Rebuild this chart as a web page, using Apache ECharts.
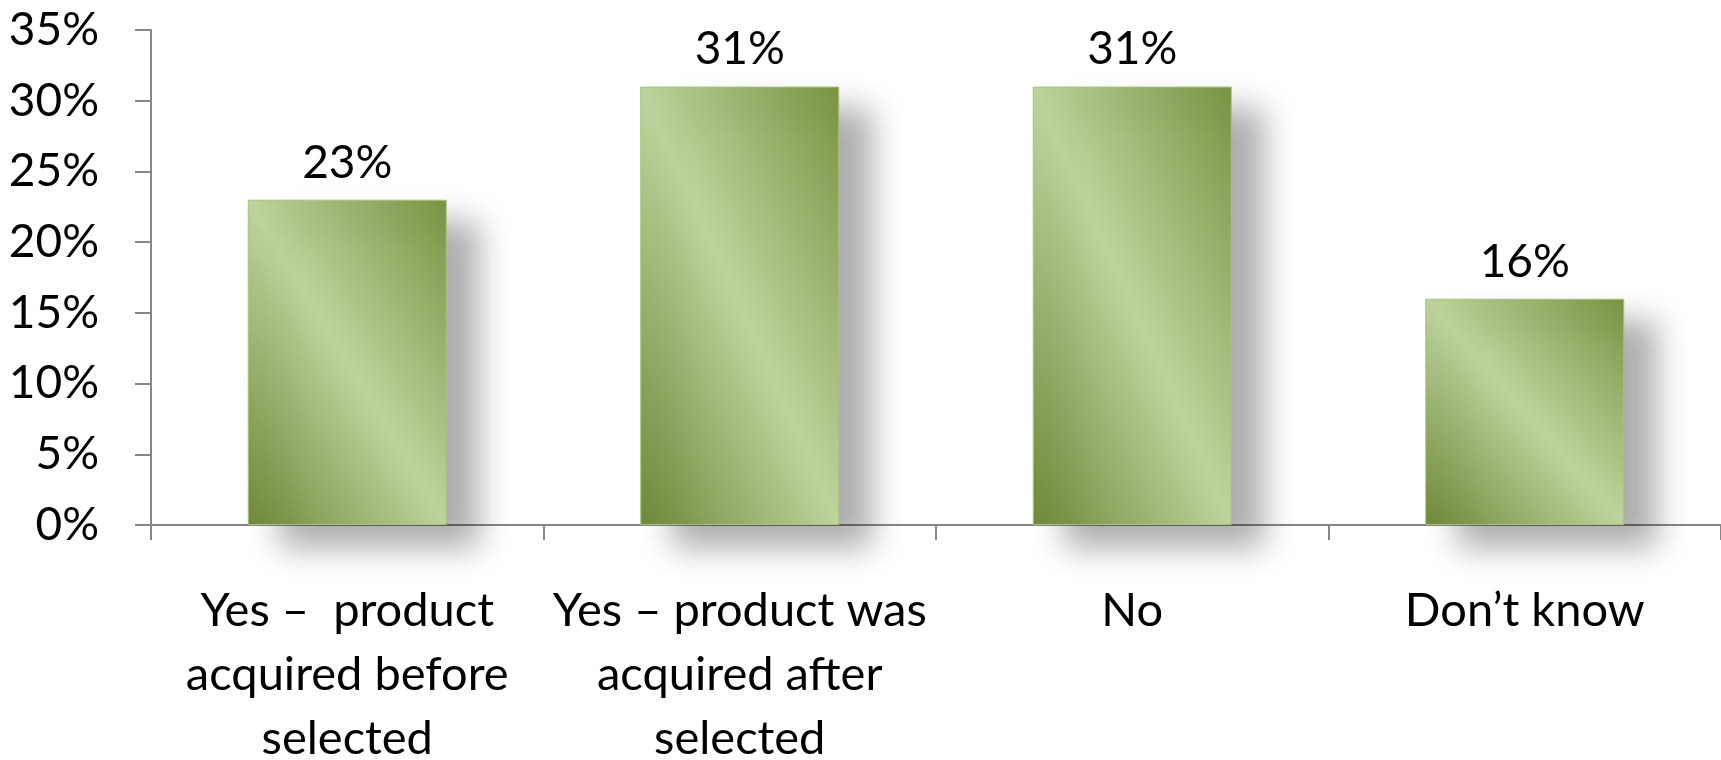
<!DOCTYPE html>
<html>
<head>
<meta charset="utf-8">
<script src="https://cdn.jsdelivr.net/npm/echarts@6/dist/echarts.min.js"></script>
<style>
html,body{margin:0;padding:0;background:#fff;}
#chart{width:1721px;height:760px;}
</style>
</head>
<body>
<div id="chart"></div>
<script>
const categories = [
  "Yes \u2013  product\nacquired before\nselected",
  "Yes \u2013 product was\nacquired after\nselected",
  "No",
  "Don\u2019t know"
];
const values = [23, 31, 31, 16];
const yTicks = { min: 0, max: 35, interval: 5 };

const FONT = "Lato";
const BAR_W = 199;
const chart = echarts.init(document.getElementById('chart'));

function baseOption(seriesData) {
  return {
    animation: false,
    backgroundColor: '#ffffff',
    grid: { left: 151, right: 0, top: 30, bottom: 235, containLabel: false, outerBoundsMode: 'none' },
    xAxis: {
      type: 'category',
      data: categories,
      axisLine: { lineStyle: { color: '#868686', width: 2 } },
      axisTick: { show: true, alignWithLabel: false, length: 15, lineStyle: { color: '#868686', width: 2 } },
      axisLabel: {
        interval: 0, margin: 54, color: '#000', fontFamily: FONT, fontSize: 47,
        lineHeight: 64, align: 'center', hideOverlap: false
      }
    },
    yAxis: {
      type: 'value',
      min: yTicks.min, max: yTicks.max, interval: yTicks.interval,
      axisLine: { show: true, lineStyle: { color: '#868686', width: 2 } },
      axisTick: { show: true, length: 16, lineStyle: { color: '#868686', width: 2 } },
      splitLine: { show: false },
      axisLabel: {
        formatter: '{value}%', margin: 52, color: '#000', fontFamily: FONT, fontSize: 46
      }
    },
    series: [{
      type: 'bar',
      data: seriesData,
      barWidth: BAR_W,
      itemStyle: {
        color: '#9fb973',
        borderColor: '#a9c27f',
        borderWidth: 1,
        shadowColor: 'rgba(0,0,0,0.32)',
        shadowBlur: 30,
        shadowOffsetX: 32,
        shadowOffsetY: 22
      },
      label: {
        show: true, position: 'top', distance: 14,
        formatter: '{c}%', color: '#000', fontFamily: FONT, fontSize: 46
      }
    }]
  };
}

chart.setOption(baseOption(values));

// Diagonal sheen: light band running from top-left to bottom-right corner of each bar
const y0 = chart.convertToPixel({ yAxisIndex: 0 }, 0);
const styled = values.map(function (v) {
  const h = Math.abs(y0 - chart.convertToPixel({ yAxisIndex: 0 }, v));
  const w = BAR_W;
  const n2 = h * h + w * w;
  const ax = h * h / n2, ay = w * w / n2;
  return {
    value: v,
    itemStyle: {
      color: new echarts.graphic.LinearGradient(0.5 - ax, 0.5 + ay, 0.5 + ax, 0.5 - ay, [
        { offset: 0, color: '#6e8838' },
        { offset: 0.5, color: '#bdd39c' },
        { offset: 1, color: '#7a9443' }
      ])
    }
  };
});
chart.setOption(baseOption(styled));
</script>
</body>
</html>
